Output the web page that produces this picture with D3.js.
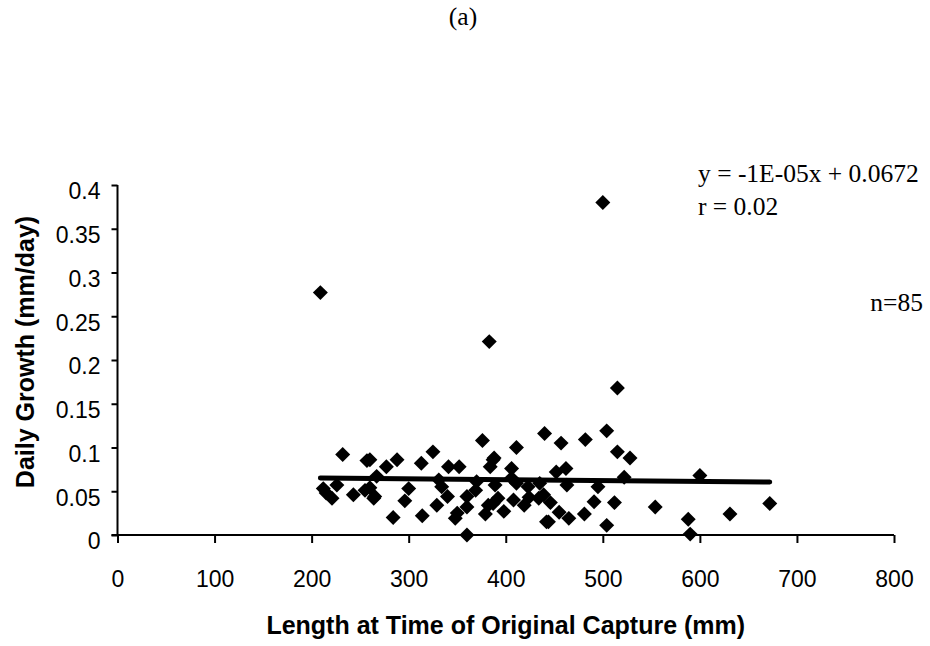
<!DOCTYPE html>
<html>
<head>
<meta charset="utf-8">
<script src="https://cdn.jsdelivr.net/npm/d3@7"></script>
<style>
  html, body { margin: 0; padding: 0; background: #fff; }
  svg { display: block; }
  .tick-label { font-family: "Liberation Sans", Arial, sans-serif; font-size: 23px; fill: #000; }
  .axis-title { font-family: "Liberation Sans", Arial, sans-serif; font-size: 25px; font-weight: bold; fill: #000; }
  .note { font-family: "Liberation Serif", "Times New Roman", serif; font-size: 25.5px; fill: #000; }
</style>
</head>
<body>
<svg id="chart" width="930" height="646"></svg>
<script>
  'use strict';

  // length at time of original capture (mm)
  const lengths = [
    209, 383, 500, 515, 440, 457, 482, 504, 411, 515,
    528, 600, 522, 462, 452, 406, 387, 463, 495, 435,
    423, 554, 588, 590, 631, 672, 504, 512, 491, 481,
    465, 455, 444, 446, 434, 419, 408, 398, 387, 439,
    376, 325, 288, 313, 277, 260, 341, 352, 388, 384,
    267, 331, 300, 334, 369, 389, 406, 265, 260, 296,
    340, 360, 329, 360, 382, 392, 284, 314, 348, 350,
    379, 360, 442, 232, 257, 212, 221, 226, 243, 255,
    264, 411, 370, 215, 424
  ];
  // daily growth (mm/day)
  const growth = [
    0.277, 0.221, 0.380, 0.168, 0.116, 0.105, 0.109, 0.119, 0.100, 0.095,
    0.088, 0.068, 0.066, 0.076, 0.072, 0.076, 0.086, 0.057, 0.055, 0.059,
    0.055, 0.032, 0.018, 0.001, 0.024, 0.036, 0.011, 0.037, 0.038, 0.024,
    0.019, 0.026, 0.015, 0.037, 0.042, 0.034, 0.040, 0.027, 0.036, 0.046,
    0.108, 0.095, 0.086, 0.082, 0.078, 0.086, 0.078, 0.078, 0.088, 0.078,
    0.067, 0.063, 0.053, 0.055, 0.051, 0.057, 0.065, 0.044, 0.054, 0.039,
    0.044, 0.044, 0.034, 0.032, 0.034, 0.042, 0.020, 0.022, 0.019, 0.025,
    0.024, 0.000, 0.015, 0.092, 0.085, 0.053, 0.042, 0.057, 0.046, 0.051,
    0.042, 0.059, 0.061, 0.048, 0.043
  ];
  const xTicks = [0, 100, 200, 300, 400, 500, 600, 700, 800];
  const yTicks = [0, 0.05, 0.1, 0.15, 0.2, 0.25, 0.3, 0.35, 0.4];
  const slope = -1e-5;
  const intercept = 0.0672;
  const notes = ['y = -1E-05x + 0.0672', 'r = 0.02', 'n=85'];

  const svg = d3.select('#chart');
  const x = d3.scaleLinear().domain([0, 800]).range([117.5, 894]);
  const y = d3.scaleLinear().domain([0, 0.4]).range([535, 185]);

  svg.append('text').attr('class', 'note')
    .attr('x', 463).attr('y', 25).attr('text-anchor', 'middle').text('(a)');

  // y axis
  const yAxis = svg.append('g').attr('transform', 'translate(' + x(0) + ',0)')
    .call(d3.axisLeft(y).tickValues(yTicks).tickSize(6).tickPadding(11)
      .tickFormat(function (d) { return String(+d.toFixed(2)); }));
  yAxis.select('.domain').attr('stroke', '#000').attr('stroke-width', 2).attr('d', 'M0,' + y(0.4) + 'V' + y(0));
  yAxis.selectAll('.tick line').attr('stroke', '#000').attr('stroke-width', 2);
  yAxis.selectAll('.tick text').attr('class', 'tick-label').attr('font-family', null).attr('font-size', null)
    .attr('dy', '0.6em');

  // x axis
  const xAxis = svg.append('g').attr('transform', 'translate(0,' + y(0) + ')')
    .call(d3.axisBottom(x).tickValues(xTicks).tickSize(8).tickPadding(28));
  xAxis.select('.domain').attr('stroke', '#000').attr('stroke-width', 2).attr('d', 'M' + (x(0) - 6) + ',0H' + x(800));
  xAxis.selectAll('.tick line').attr('stroke', '#000').attr('stroke-width', 2);
  xAxis.selectAll('.tick text').attr('class', 'tick-label').attr('font-family', null).attr('font-size', null);

  // markers
  const pts = lengths.map(function (v, i) { return { x: v, y: growth[i] }; });
  const diamond = d3.symbol().type(d3.symbolSquare).size(112);
  svg.append('g').selectAll('path').data(pts).join('path')
    .attr('d', diamond)
    .attr('transform', function (d) { return 'translate(' + x(d.x) + ',' + y(d.y) + ') rotate(45)'; })
    .attr('fill', '#000');

  // trend line over data range
  const xMin = d3.min(lengths);
  const xMax = d3.max(lengths);
  svg.append('line')
    .attr('x1', x(xMin)).attr('y1', y(slope * xMin + intercept))
    .attr('x2', x(xMax)).attr('y2', y(slope * xMax + intercept))
    .attr('stroke', '#000').attr('stroke-width', 5).attr('stroke-linecap', 'round');

  // titles
  svg.append('text').attr('class', 'axis-title')
    .attr('x', x(400)).attr('y', 634).attr('text-anchor', 'middle')
    .text('Length at Time of Original Capture (mm)');
  svg.append('text').attr('class', 'axis-title')
    .attr('transform', 'translate(34,352) rotate(-90)')
    .attr('text-anchor', 'middle')
    .text('Daily Growth (mm/day)');

  svg.append('text').attr('class', 'note').attr('x', 698).attr('y', 182).text(notes[0]);
  svg.append('text').attr('class', 'note').attr('x', 698).attr('y', 215).text(notes[1]);
  svg.append('text').attr('class', 'note').attr('x', 923).attr('y', 311).attr('text-anchor', 'end').text(notes[2]);
</script>
</body>
</html>
